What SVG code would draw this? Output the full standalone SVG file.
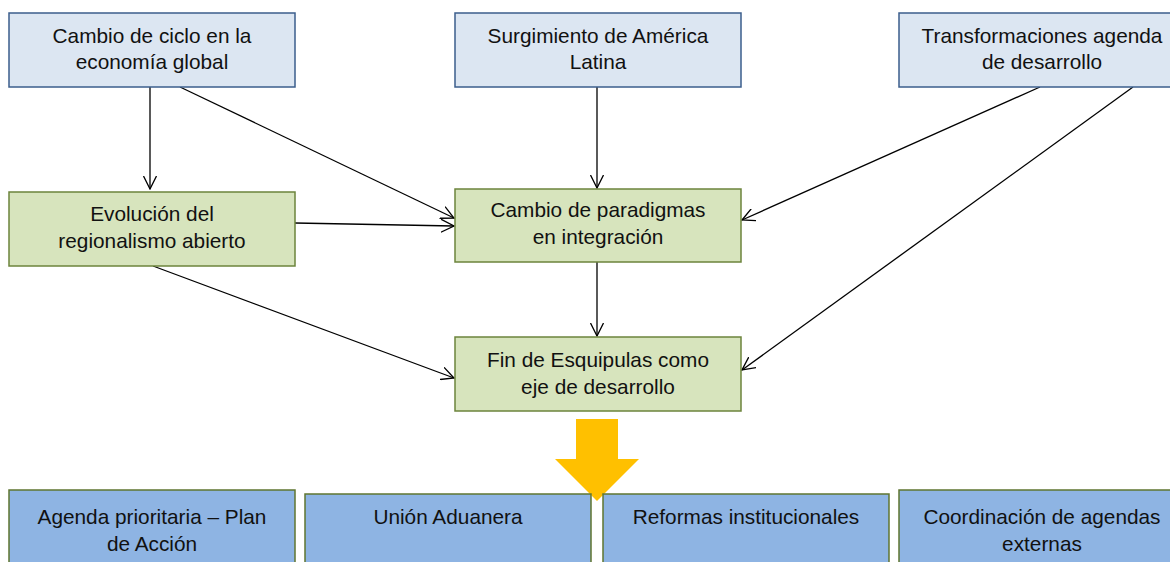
<svg xmlns="http://www.w3.org/2000/svg" width="1170" height="562" viewBox="0 0 1170 562">
<style>
.t{font-family:"Liberation Sans",Arial,sans-serif;font-size:20.8px;fill:#111;text-anchor:middle}
.blue{fill:#DCE6F2;stroke:#3B5E8C;stroke-width:1.5}
.green{fill:#D7E4BD;stroke:#6C843C;stroke-width:1.5}
.dark{fill:#8EB4E3;stroke:#5F7530;stroke-width:1.5}
.c{stroke:#000;stroke-width:1.3;fill:none;marker-end:url(#a)}
</style>
<defs>
<marker id="a" viewBox="0 0 14 14" refX="13" refY="7" markerWidth="14" markerHeight="14" markerUnits="userSpaceOnUse" orient="auto">
<path d="M0,0.5 L13,7 L0,13.5" fill="none" stroke="#000" stroke-width="1.3"/>
</marker>
</defs>
<rect width="1170" height="562" fill="#fff"/>
<g id="connectors">
<line class="c" x1="150" y1="87" x2="150" y2="189"/>
<line class="c" x1="180" y1="87" x2="454" y2="218"/>
<line class="c" x1="597" y1="87" x2="597" y2="188"/>
<line class="c" x1="1040" y1="87" x2="742" y2="220"/>
<line class="c" x1="1133" y1="87" x2="742" y2="370"/>
<line class="c" x1="295" y1="223" x2="454" y2="226"/>
<line class="c" x1="153" y1="266" x2="454" y2="378"/>
<line class="c" x1="597" y1="262" x2="597" y2="336"/>
</g>
<g id="n1"><rect class="blue" x="9" y="13" width="286" height="74"/><text class="t" x="152" y="43">Cambio de ciclo en la</text><text class="t" x="152" y="69">economía global</text></g>
<g id="n2"><rect class="blue" x="455" y="13" width="286" height="74"/><text class="t" x="598" y="43">Surgimiento de América</text><text class="t" x="598" y="69">Latina</text></g>
<g id="n3"><rect class="blue" x="899" y="13" width="286" height="74"/><text class="t" x="1042" y="43">Transformaciones agenda</text><text class="t" x="1042" y="69">de desarrollo</text></g>
<g id="n4"><rect class="green" x="9" y="192" width="286" height="74"/><text class="t" x="152" y="221">Evolución del</text><text class="t" x="152" y="248">regionalismo abierto</text></g>
<g id="n5"><rect class="green" x="455" y="189" width="286" height="73"/><text class="t" x="598" y="217">Cambio de paradigmas</text><text class="t" x="598" y="244">en integración</text></g>
<g id="n6"><rect class="green" x="455" y="337" width="286" height="74"/><text class="t" x="598" y="367">Fin de Esquipulas como</text><text class="t" x="598" y="394">eje de desarrollo</text></g>
<g id="bigarrow"><polygon points="576,419 618,419 618,459 639,459 597,501 555,459 576,459" fill="#FFC000"/></g>
<g id="n7"><rect class="dark" x="9" y="490" width="286" height="80"/><text class="t" x="152" y="524">Agenda prioritaria – Plan</text><text class="t" x="152" y="551">de Acción</text></g>
<g id="n8"><rect class="dark" x="305" y="494" width="286" height="80"/><text class="t" x="448" y="524">Unión Aduanera</text></g>
<g id="n9"><rect class="dark" x="603" y="494" width="286" height="80"/><text class="t" x="746" y="524">Reformas institucionales</text></g>
<g id="n10"><rect class="dark" x="899" y="490" width="286" height="80"/><text class="t" x="1042" y="524">Coordinación de agendas</text><text class="t" x="1042" y="551">externas</text></g>
</svg>
